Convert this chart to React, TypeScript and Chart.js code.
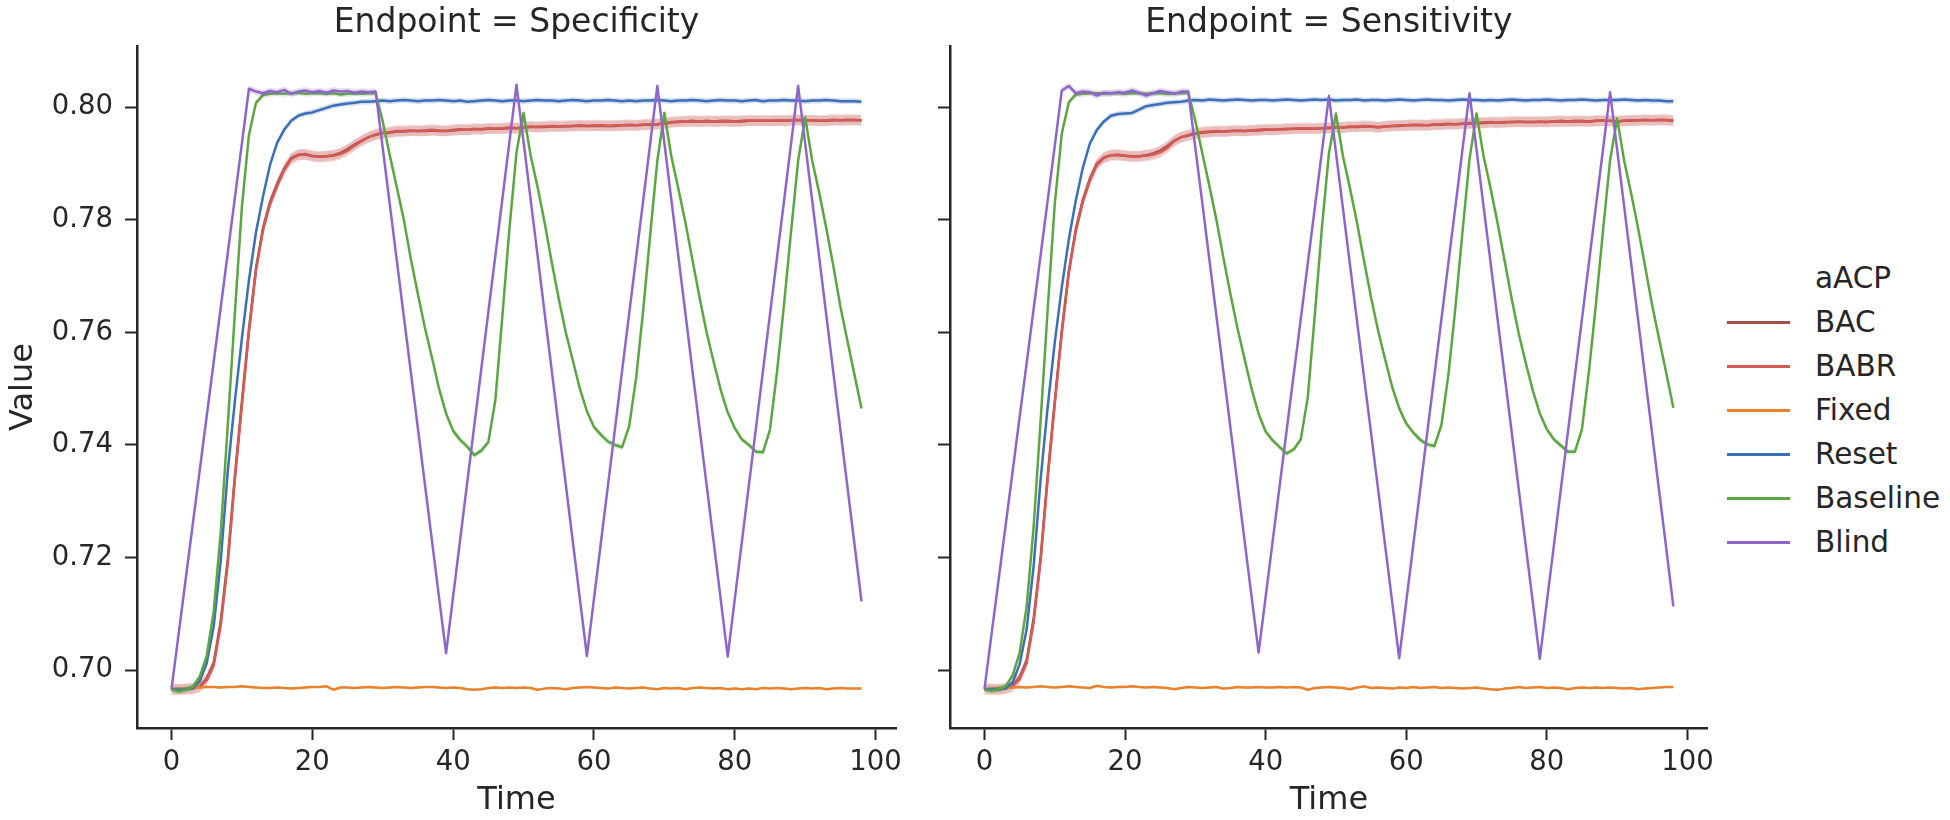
import React, { useEffect, useRef } from "react";
import { Chart, registerables } from "chart.js";

Chart.register(...registerables);

// ---------------- data ----------------
const timeSteps = [
  0, 1, 2, 3, 4, 5, 6, 7, 8, 9, 10, 11, 12, 13, 14, 15, 16, 17, 18, 19,
  20, 21, 22, 23, 24, 25, 26, 27, 28, 29, 30, 31, 32, 33, 34, 35, 36, 37, 38, 39,
  40, 41, 42, 43, 44, 45, 46, 47, 48, 49, 50, 51, 52, 53, 54, 55, 56, 57, 58, 59,
  60, 61, 62, 63, 64, 65, 66, 67, 68, 69, 70, 71, 72, 73, 74, 75, 76, 77, 78, 79,
  80, 81, 82, 83, 84, 85, 86, 87, 88, 89, 90, 91, 92, 93, 94, 95, 96, 97, 98,
];

const seriesNames = ["BAC", "BABR", "Fixed", "Reset", "Baseline", "Blind"];
const seriesColors = ["#a2504d", "#d45a55", "#e8822c", "#3b6fb6", "#5ba642", "#9065c9"];
const ciHalf = [0.0009, 0.001, 0.0002, 0.0005, 0.0005, 0.0006];

const panelTitles = ["Endpoint = Specificity", "Endpoint = Sensitivity"];
const xTicks = [0, 20, 40, 60, 80, 100];
const yTicks = [0.7, 0.72, 0.74, 0.76, 0.78, 0.8];
const xRange = [-4.9, 102.9];
const yRange = [0.6897, 0.8109];

// ---- Specificity ----
const specBAC = [
  0.6966, 0.6966, 0.6966, 0.6967, 0.6971, 0.6985, 0.7013, 0.7088, 0.7198, 0.7345,
  0.7478, 0.7606, 0.7714, 0.7786, 0.7832, 0.7864, 0.7891, 0.791, 0.7916, 0.7916,
  0.7913, 0.7912, 0.7913, 0.7915, 0.7919, 0.7926, 0.7934, 0.7941, 0.7947, 0.7951,
  0.7954, 0.7955, 0.7957, 0.7957, 0.7958, 0.7958, 0.7958, 0.7959, 0.7958, 0.7958,
  0.7959, 0.796, 0.796, 0.7961, 0.7961, 0.7962, 0.7962, 0.7962, 0.7963, 0.7963,
  0.7964, 0.7965, 0.7965, 0.7965, 0.7966, 0.7966, 0.7966, 0.7967, 0.7967, 0.7967,
  0.7967, 0.7967, 0.7967, 0.7967, 0.7968, 0.7968, 0.7968, 0.7969, 0.7969, 0.797,
  0.7971, 0.7973, 0.7974, 0.7975, 0.7975, 0.7975, 0.7975, 0.7975, 0.7975, 0.7975,
  0.7975, 0.7975, 0.7976, 0.7976, 0.7976, 0.7976, 0.7976, 0.7976, 0.7977, 0.7977,
  0.7977, 0.7977, 0.7976, 0.7976, 0.7977, 0.7977, 0.7977, 0.7977, 0.7977,
];
const specBABR = [
  0.6966, 0.6965, 0.6966, 0.6967, 0.697, 0.6982, 0.7008, 0.708, 0.719, 0.7338,
  0.747, 0.76, 0.771, 0.7782, 0.7828, 0.786, 0.7888, 0.7908, 0.7915, 0.7917,
  0.7914, 0.7912, 0.7913, 0.7914, 0.7917, 0.7923, 0.7932, 0.794, 0.7947, 0.7952,
  0.7955, 0.7956, 0.7958, 0.7958, 0.7959, 0.7958, 0.7959, 0.796, 0.7959, 0.7958,
  0.796, 0.7961, 0.796, 0.7962, 0.7961, 0.7963, 0.7962, 0.7963, 0.7964, 0.7963,
  0.7965, 0.7966, 0.7965, 0.7966, 0.7967, 0.7966, 0.7967, 0.7967, 0.7968, 0.7967,
  0.7968, 0.7968, 0.7967, 0.7968, 0.7968, 0.7969, 0.7968, 0.7969, 0.797, 0.797,
  0.7972, 0.7974, 0.7975, 0.7975, 0.7976, 0.7975, 0.7976, 0.7975, 0.7976, 0.7976,
  0.7975, 0.7976, 0.7977, 0.7976, 0.7977, 0.7976, 0.7977, 0.7976, 0.7977, 0.7978,
  0.7977, 0.7977, 0.7976, 0.7977, 0.7978, 0.7977, 0.7978, 0.7978, 0.7977,
];
const specFixed = [
  0.6966, 0.6967, 0.6967, 0.6968, 0.6969, 0.697, 0.697, 0.6969, 0.697, 0.697,
  0.6971, 0.697, 0.6969, 0.6968, 0.6968, 0.6969, 0.6968, 0.6967, 0.6968, 0.6969,
  0.697, 0.697, 0.6971, 0.6965, 0.6969, 0.6969, 0.6968, 0.6969, 0.697, 0.6969,
  0.6968, 0.6969, 0.697, 0.6969, 0.6968, 0.6969, 0.697, 0.697, 0.6969, 0.6968,
  0.6969, 0.6968, 0.6966, 0.6965, 0.6966, 0.6968, 0.6969, 0.6968, 0.6969, 0.6968,
  0.6969, 0.6968, 0.6965, 0.6967, 0.6968, 0.6967, 0.6966, 0.6968, 0.6969, 0.697,
  0.6969, 0.6968, 0.6967, 0.6969, 0.6968, 0.6967, 0.6968, 0.6969, 0.6967, 0.6966,
  0.6968, 0.6967, 0.6968, 0.6966, 0.6968, 0.6969, 0.6968, 0.6967, 0.6968, 0.6966,
  0.6967, 0.6966, 0.6967, 0.6966, 0.6968, 0.6967, 0.6968, 0.6967, 0.6966, 0.6967,
  0.6968, 0.6967, 0.6968, 0.6966, 0.6967, 0.6968, 0.6967, 0.6967, 0.6967,
];
const specReset = [
  0.6966, 0.6965, 0.6966, 0.6968, 0.698, 0.7012, 0.7078, 0.7195, 0.7355, 0.7478,
  0.759, 0.7693, 0.7778, 0.7842, 0.7898, 0.7937, 0.796, 0.7976, 0.7985, 0.7989,
  0.7991, 0.7995, 0.7999, 0.8003, 0.8005, 0.8007, 0.8008, 0.801, 0.801, 0.8011,
  0.8012, 0.8011, 0.8012, 0.8013, 0.8012, 0.8011, 0.8012, 0.8012, 0.8013, 0.8012,
  0.8011, 0.8012, 0.801, 0.8011, 0.8012, 0.8013, 0.8012, 0.8011, 0.8012, 0.8012,
  0.8011, 0.8012, 0.8013, 0.8012, 0.8012, 0.8011, 0.8012, 0.8013, 0.8012, 0.8011,
  0.8012, 0.8012, 0.8013, 0.8012, 0.8011, 0.8012, 0.8011, 0.8012, 0.8012, 0.8013,
  0.8012, 0.8011, 0.8012, 0.8012, 0.8013, 0.8012, 0.8011, 0.8012, 0.8013, 0.8012,
  0.8012, 0.8011, 0.8012, 0.8013, 0.8011, 0.8012, 0.8012, 0.8013, 0.8012, 0.8012,
  0.8011, 0.8012, 0.8012, 0.8013, 0.8012, 0.8011, 0.8011, 0.8011, 0.801,
];
const specBaseline = [
  0.6966, 0.6962, 0.6965, 0.697, 0.6988, 0.7025, 0.7105, 0.7245, 0.7437, 0.7634,
  0.7823, 0.7951, 0.8008, 0.8022, 0.8024, 0.8025, 0.8024, 0.8025, 0.8026, 0.8024,
  0.8025, 0.8025, 0.8024, 0.8025, 0.8023, 0.8024, 0.8025, 0.8024, 0.8025, 0.8025,
  0.7975, 0.7915, 0.7858, 0.78, 0.773, 0.7668, 0.7608, 0.7555, 0.75, 0.7456,
  0.7425, 0.7409, 0.7397, 0.7382, 0.739, 0.7405, 0.748, 0.763, 0.7785, 0.792,
  0.799, 0.7915, 0.7858, 0.7795, 0.7725, 0.766, 0.76, 0.755, 0.75, 0.746,
  0.7432, 0.7418, 0.7406, 0.74, 0.7396, 0.7433, 0.752, 0.764, 0.7775, 0.7905,
  0.799, 0.7912, 0.7855, 0.7795, 0.7728, 0.7662, 0.76, 0.7548, 0.7498, 0.7458,
  0.743, 0.741, 0.74, 0.7388, 0.7387, 0.7427, 0.753, 0.765, 0.778, 0.7905,
  0.7982, 0.7905, 0.7848, 0.7785, 0.7718, 0.7646, 0.7585, 0.7525, 0.7465,
];
const specBlind = [
  0.6966, 0.7063, 0.716, 0.7257, 0.7354, 0.7451, 0.7548, 0.7645, 0.7742, 0.7839,
  0.7936, 0.8033, 0.8028, 0.8025, 0.8029, 0.8027, 0.8031, 0.8024, 0.8028, 0.803,
  0.8027, 0.8029, 0.8026, 0.803, 0.8028, 0.8029, 0.8026, 0.8028, 0.8027, 0.8028,
  0.7928, 0.7828, 0.7728, 0.7628, 0.7529, 0.7429, 0.7329, 0.7229, 0.7129, 0.703,
  0.7131, 0.7232, 0.7333, 0.7434, 0.7535, 0.7636, 0.7737, 0.7838, 0.7939, 0.804,
  0.7939, 0.7837, 0.7736, 0.7634, 0.7533, 0.7431, 0.733, 0.7228, 0.7127, 0.7025,
  0.7126, 0.7228, 0.7329, 0.743, 0.7532, 0.7633, 0.7734, 0.7835, 0.7937, 0.8038,
  0.7937, 0.7835, 0.7734, 0.7633, 0.7531, 0.743, 0.7329, 0.7228, 0.7126, 0.7024,
  0.7126, 0.7227, 0.7328, 0.7429, 0.7531, 0.7632, 0.7733, 0.7834, 0.7936, 0.8038,
  0.7936, 0.7834, 0.7733, 0.7631, 0.7529, 0.7427, 0.7326, 0.7224, 0.7122,
];

// ---- Sensitivity ----
const sensBAC = [
  0.6966, 0.6966, 0.6966, 0.6967, 0.6972, 0.6987, 0.7017, 0.7092, 0.7202, 0.7347,
  0.7478, 0.7603, 0.7709, 0.7784, 0.7836, 0.7873, 0.79, 0.7911, 0.7915, 0.7915,
  0.7914, 0.7913, 0.7913, 0.7915, 0.7918, 0.7923, 0.7931, 0.7941, 0.7947, 0.795,
  0.7953, 0.7955, 0.7956, 0.7957, 0.7957, 0.7958, 0.7958, 0.7958, 0.7959, 0.7959,
  0.796, 0.796, 0.7961, 0.7961, 0.7962, 0.7962, 0.7962, 0.7962, 0.7963, 0.7963,
  0.7964, 0.7964, 0.7965, 0.7965, 0.7966, 0.7966, 0.7965, 0.7966, 0.7967, 0.7967,
  0.7968, 0.7968, 0.7968, 0.7968, 0.7969, 0.7969, 0.797, 0.797, 0.7971, 0.7971,
  0.7972, 0.7972, 0.7973, 0.7973, 0.7973, 0.7974, 0.7974, 0.7974, 0.7974, 0.7974,
  0.7974, 0.7975, 0.7975, 0.7975, 0.7975, 0.7975, 0.7975, 0.7976, 0.7976, 0.7976,
  0.7975, 0.7976, 0.7976, 0.7977, 0.7977, 0.7977, 0.7977, 0.7977, 0.7976,
];
const sensBABR = [
  0.6966, 0.6966, 0.6965, 0.6967, 0.6971, 0.6984, 0.7012, 0.7085, 0.7195, 0.734,
  0.7472, 0.7598, 0.7705, 0.778, 0.7832, 0.787, 0.7898, 0.791, 0.7915, 0.7916,
  0.7914, 0.7912, 0.7913, 0.7914, 0.7916, 0.792, 0.7928, 0.794, 0.7947, 0.7951,
  0.7954, 0.7956, 0.7957, 0.7958, 0.7957, 0.7958, 0.7959, 0.7958, 0.7959, 0.796,
  0.7961, 0.796, 0.7961, 0.7962, 0.7962, 0.7963, 0.7963, 0.7962, 0.7963, 0.7964,
  0.7965, 0.7964, 0.7966, 0.7966, 0.7967, 0.7966, 0.7964, 0.7966, 0.7967, 0.7968,
  0.7968, 0.7969, 0.7969, 0.7968, 0.797, 0.797, 0.7971, 0.797, 0.7971, 0.7972,
  0.7973, 0.7973, 0.7974, 0.7973, 0.7974, 0.7974, 0.7975, 0.7974, 0.7974, 0.7975,
  0.7974, 0.7975, 0.7976, 0.7975, 0.7976, 0.7976, 0.7975, 0.7976, 0.7977, 0.7976,
  0.7975, 0.7976, 0.7977, 0.7977, 0.7978, 0.7977, 0.7978, 0.7978, 0.7976,
];
const sensFixed = [
  0.6966, 0.6967, 0.6968, 0.6968, 0.6969, 0.697, 0.6969, 0.697, 0.6971, 0.697,
  0.6969, 0.697, 0.6971, 0.697, 0.6969, 0.6968, 0.6972, 0.697, 0.6969, 0.697,
  0.697, 0.6971, 0.697, 0.6969, 0.697, 0.6969, 0.6968, 0.6966, 0.6968, 0.697,
  0.6969, 0.6968, 0.6969, 0.697, 0.6967, 0.6968, 0.697, 0.6969, 0.6969, 0.697,
  0.6969, 0.6969, 0.697, 0.6969, 0.697, 0.6969, 0.6965, 0.6968, 0.6969, 0.697,
  0.6969, 0.6968, 0.6966, 0.6969, 0.6971, 0.6968, 0.6969, 0.6968, 0.6967, 0.6969,
  0.6968, 0.697, 0.6968, 0.6969, 0.697, 0.6968, 0.6969, 0.6968, 0.6967, 0.6968,
  0.6969, 0.6967, 0.6966, 0.6965, 0.6967, 0.6968, 0.697, 0.6968, 0.6969, 0.697,
  0.6968, 0.6969, 0.6968, 0.6966, 0.6968, 0.6969, 0.6968, 0.6969, 0.6968, 0.6969,
  0.6968, 0.6967, 0.6968, 0.6966, 0.6967, 0.6968, 0.6969, 0.697, 0.697,
];
const sensReset = [
  0.6966, 0.6966, 0.6966, 0.6968, 0.6978, 0.701, 0.7072, 0.7185, 0.734, 0.7468,
  0.7582, 0.768, 0.7765, 0.7835, 0.7893, 0.7936, 0.796, 0.7975, 0.7985, 0.7988,
  0.7989, 0.799, 0.7996, 0.8002, 0.8004, 0.8006, 0.8008, 0.8009, 0.801, 0.8012,
  0.8013, 0.8012, 0.8014, 0.8013, 0.8012, 0.8013, 0.8014, 0.8013, 0.8012, 0.8013,
  0.8013, 0.8012, 0.8013, 0.8014, 0.8013, 0.8012, 0.8013, 0.8014, 0.8013, 0.8014,
  0.8012, 0.8013, 0.8013, 0.8014, 0.8012, 0.8013, 0.8013, 0.8012, 0.8013, 0.8014,
  0.8013, 0.8012, 0.8013, 0.8014, 0.8013, 0.8013, 0.8012, 0.8013, 0.8014, 0.8013,
  0.8013, 0.8012, 0.8013, 0.8012, 0.8013, 0.8014, 0.8013, 0.8012, 0.8013, 0.8013,
  0.8014, 0.8013, 0.8012, 0.8013, 0.8013, 0.8014, 0.8013, 0.8012, 0.8013, 0.8013,
  0.8013, 0.8014, 0.8013, 0.8012, 0.8013, 0.8012, 0.8012, 0.8011, 0.8011,
];
const sensBaseline = [
  0.6966, 0.6963, 0.6966, 0.6971, 0.699, 0.703, 0.7112, 0.7255, 0.7445, 0.7642,
  0.7828, 0.7953, 0.8009, 0.8023, 0.8024, 0.8025, 0.8025, 0.8024, 0.8025, 0.8025,
  0.8024, 0.8025, 0.8025, 0.8024, 0.8025, 0.8025, 0.8024, 0.8025, 0.8025, 0.8026,
  0.7976, 0.7918, 0.786, 0.78, 0.7732, 0.7668, 0.7607, 0.7553, 0.75, 0.7455,
  0.7424, 0.7408, 0.7396, 0.7385, 0.7392, 0.741, 0.7485, 0.7632, 0.7785, 0.7918,
  0.7989, 0.7913, 0.7856, 0.7795, 0.7727, 0.7662, 0.7603, 0.7552, 0.7503, 0.7465,
  0.7438, 0.7422, 0.7409, 0.7401, 0.7398, 0.7435, 0.7525, 0.7645, 0.7778, 0.7908,
  0.7989, 0.7913, 0.7856, 0.7794, 0.7727, 0.766, 0.7598, 0.7546, 0.7497, 0.7456,
  0.7428, 0.741, 0.7399, 0.7388, 0.7388, 0.7428, 0.7532, 0.7652, 0.7782, 0.7906,
  0.798, 0.7905, 0.7847, 0.7784, 0.7716, 0.7647, 0.7587, 0.7527, 0.7466,
];
const sensBlind = [
  0.6966, 0.7063, 0.7159, 0.7256, 0.7352, 0.7449, 0.7545, 0.7642, 0.7738, 0.7835,
  0.7931, 0.803, 0.8038, 0.8025, 0.8028, 0.8027, 0.8021, 0.8026, 0.8025, 0.8027,
  0.8026, 0.803, 0.8026, 0.8021, 0.8025, 0.8029, 0.8027, 0.8024, 0.8028, 0.8028,
  0.7928, 0.7829, 0.7729, 0.7629, 0.753, 0.743, 0.733, 0.723, 0.7131, 0.7031,
  0.713, 0.7229, 0.7328, 0.7427, 0.7526, 0.7624, 0.7723, 0.7822, 0.7921, 0.802,
  0.792, 0.782, 0.772, 0.762, 0.752, 0.7421, 0.7321, 0.7221, 0.7121, 0.7021,
  0.7121, 0.7222, 0.7322, 0.7423, 0.7523, 0.7623, 0.7724, 0.7824, 0.7925, 0.8025,
  0.7925, 0.7824, 0.7724, 0.7623, 0.7523, 0.7423, 0.7322, 0.7221, 0.7121, 0.702,
  0.7121, 0.7221, 0.7322, 0.7423, 0.7524, 0.7624, 0.7725, 0.7826, 0.7926, 0.8027,
  0.7925, 0.7824, 0.7722, 0.7621, 0.7519, 0.7418, 0.7316, 0.7215, 0.7113,
];

const panelSeries = [
  [specBAC, specBABR, specFixed, specReset, specBaseline, specBlind],
  [sensBAC, sensBABR, sensFixed, sensReset, sensBaseline, sensBlind],
];

// ---------------- styling ----------------
const FONT = "'DejaVu Sans', sans-serif";
const TEXT = "#262626";
const TICK_SIZE = 27.5;

function withAlpha(hex: string, a: number) {
  const r = parseInt(hex.slice(1, 3), 16);
  const g = parseInt(hex.slice(3, 5), 16);
  const b = parseInt(hex.slice(5, 7), 16);
  return `rgba(${r},${g},${b},${a})`;
}

function buildDatasets(panel: number) {
  const out: any[] = [];
  panelSeries[panel].forEach((vals, k) => {
    const color = seriesColors[k];
    const base = 1000 - k * 3;
    out.push({
      label: seriesNames[k] + " low",
      data: timeSteps.map((t, i) => ({ x: t, y: vals[i] - ciHalf[k] })),
      borderWidth: 0,
      pointRadius: 0,
      fill: false,
      order: base,
    });
    out.push({
      label: seriesNames[k] + " high",
      data: timeSteps.map((t, i) => ({ x: t, y: vals[i] + ciHalf[k] })),
      borderWidth: 0,
      pointRadius: 0,
      backgroundColor: withAlpha(color, 0.22),
      fill: "-1",
      order: base - 1,
    });
    out.push({
      label: seriesNames[k],
      data: timeSteps.map((t, i) => ({ x: t, y: vals[i] })),
      borderColor: color,
      borderWidth: 2.5,
      borderJoinStyle: "round",
      pointRadius: 0,
      fill: false,
      order: base - 2,
    });
  });
  return out;
}

function makeConfig(panel: number): any {
  const isLeft = panel === 0;
  return {
    type: "line",
    data: { datasets: buildDatasets(panel) },
    options: {
      animation: false,
      responsive: false,
      maintainAspectRatio: false,
      events: [],
      layout: { padding: { left: 0, right: isLeft ? 24 : 11, top: 0, bottom: 0 } },
      elements: { line: { tension: 0 } },
      plugins: {
        legend: { display: false },
        tooltip: { enabled: false },
        title: {
          display: true,
          text: panelTitles[panel],
          fullSize: false,
          color: TEXT,
          font: { family: FONT, size: 33, weight: "normal" },
          padding: { top: 4, bottom: 2.4 },
        },
      },
      scales: {
        x: {
          type: "linear",
          min: xRange[0],
          max: xRange[1],
          afterBuildTicks: (s: any) => {
            s.ticks = xTicks.map((v) => ({ value: v }));
          },
          afterFit: (s: any) => {
            s.height = 92;
          },
          ticks: {
            color: TEXT,
            font: { family: FONT, size: TICK_SIZE },
            padding: 6,
            maxRotation: 0,
            autoSkip: false,
            callback: (v: any) => String(v),
          },
          grid: {
            drawOnChartArea: false,
            drawTicks: true,
            tickLength: 12,
            tickWidth: 2,
            tickColor: TEXT,
            color: TEXT,
          },
          border: { display: true, color: TEXT, width: 2.5 },
          title: {
            display: true,
            text: "Time",
            color: TEXT,
            font: { family: FONT, size: 32 },
            padding: { top: 0, bottom: 0 },
          },
        },
        y: {
          type: "linear",
          min: yRange[0],
          max: yRange[1],
          afterBuildTicks: (s: any) => {
            s.ticks = yTicks.map((v) => ({ value: v }));
          },
          afterFit: (s: any) => {
            s.width = isLeft ? 137 : 30;
          },
          ticks: {
            color: TEXT,
            font: { family: FONT, size: TICK_SIZE },
            padding: 12,
            callback: (v: any) => (isLeft ? Number(v).toFixed(2) : ""),
          },
          grid: {
            drawOnChartArea: false,
            drawTicks: true,
            tickLength: 12,
            tickWidth: 2,
            tickColor: TEXT,
            color: TEXT,
          },
          border: { display: true, color: TEXT, width: 2.5 },
          title: {
            display: isLeft,
            text: "Value",
            color: TEXT,
            font: { family: FONT, size: 32 },
            padding: { top: 4, bottom: 0 },
          },
        },
      },
    },
  };
}

function Panel({ panel, left, width }: { panel: number; left: number; width: number }) {
  const ref = useRef<HTMLCanvasElement | null>(null);
  useEffect(() => {
    if (!ref.current) return;
    const chart = new Chart(ref.current, makeConfig(panel));
    return () => chart.destroy();
  }, [panel]);
  return (
    <canvas
      ref={ref}
      width={width}
      height={820}
      style={{ position: "absolute", left, top: 0, width, height: 820 }}
    />
  );
}

const legendTitle = "aACP";
const legendTop = 278;
const legendStep = 44;

export default function App() {
  return (
    <div
      style={{
        position: "absolute",
        left: 0,
        top: 0,
        width: 1950,
        height: 820,
        background: "#ffffff",
        overflow: "hidden",
        fontFamily: FONT,
      }}
    >
      <Panel panel={0} left={0} width={920} />
      <Panel panel={1} left={920} width={800} />
      <div
        style={{
          position: "absolute",
          left: 1815,
          top: legendTop - 18,
          height: 36,
          lineHeight: "36px",
          fontSize: 29.5,
          color: TEXT,
          whiteSpace: "nowrap",
        }}
      >
        {legendTitle}
      </div>
      {seriesNames.map((name, k) => {
        const cy = legendTop + legendStep * (k + 1);
        return (
          <React.Fragment key={name}>
            <div
              style={{
                position: "absolute",
                left: 1727,
                top: cy - 1.5,
                width: 63,
                height: 3,
                background: seriesColors[k],
              }}
            />
            <div
              style={{
                position: "absolute",
                left: 1815,
                top: cy - 18,
                height: 36,
                lineHeight: "36px",
                fontSize: 29.5,
                color: TEXT,
                whiteSpace: "nowrap",
              }}
            >
              {name}
            </div>
          </React.Fragment>
        );
      })}
    </div>
  );
}
